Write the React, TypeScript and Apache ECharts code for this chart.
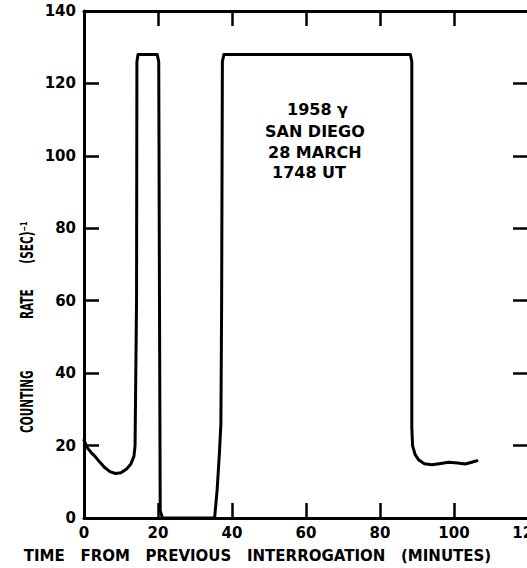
import React, { useEffect, useRef } from "react";
import * as echarts from "echarts";

// Time (minutes) and counting rate (sec^-1)
const timeMinutes: number[] = [
  0, 0.8, 2, 3, 4.2, 5.5, 7, 8.5, 10, 11.5, 12.7, 13.5, 13.8, 14.2, 14.3, 14.6,
  19.8, 20.2, 20.4, 20.6, 21.2, 35.3, 36, 36.6, 37, 37.2, 37.4, 37.8,
  88.2, 88.6, 88.6, 88.6, 88.8, 89.5, 90.5, 92, 94, 96, 98.5, 101, 103, 104.8, 106.2,
];
const countingRate: number[] = [
  21.5, 19.5, 18, 17, 15.5, 14, 12.8, 12.3, 12.5, 13.5, 15, 17, 20, 60, 126, 128,
  128, 126, 60, 2, 0, 0, 8, 18, 26, 60, 126, 128,
  128, 126, 60, 25, 20, 17.5, 16, 15, 14.7, 15, 15.4, 15.2, 14.9, 15.4, 15.8,
];

const xTicks = { min: 0, max: 120, interval: 20 };
const yTicks = { min: 0, max: 140, interval: 20 };

const xAxisTitle = "TIME   FROM   PREVIOUS   INTERROGATION   (MINUTES)";
const yAxisTitle = "COUNTING              RATE       (SEC)⁻¹";
const annotationLines: string[] = ["1958 γ", "SAN DIEGO", "28 MARCH", "1748 UT"];
const annotationLeft: number[] = [287, 265, 268, 272];
const annotationTop: number[] = [109, 131, 152, 172];

const FONT = '"DejaVu Sans", sans-serif';

export default function App() {
  const ref = useRef<HTMLDivElement>(null);
  useEffect(() => {
    if (!ref.current) return;
    const chart = echarts.init(ref.current, undefined, { renderer: "svg" });
    const axisLine = { show: true, onZero: false, lineStyle: { color: "#000", width: 3 } };
    const axisTick = { show: true, inside: true, length: 15, lineStyle: { color: "#000", width: 2.5 } };
    const labelStyle = { color: "#000", fontSize: 15, fontWeight: "bold" as const, fontFamily: FONT };
    const data = timeMinutes.map((t, i) => [t, countingRate[i]]);
    chart.setOption({
      animation: false,
      backgroundColor: "#fff",
      grid: { left: 84, right: -1, top: 11, bottom: 50, containLabel: false, outerBoundsMode: "none" },
      xAxis: [
        {
          type: "value",
          position: "bottom",
          ...xTicks,
          axisLine,
          axisTick,
          splitLine: { show: false },
          axisLabel: { ...labelStyle, margin: 7, hideOverlap: false },
          name: xAxisTitle,
          nameLocation: "middle",
          nameGap: 30,
          nameTextStyle: { ...labelStyle, fontSize: 15, padding: [0, 97, 0, 0] },
        },
        {
          type: "value",
          position: "top",
          ...xTicks,
          axisLine,
          axisTick,
          splitLine: { show: false },
          axisLabel: { show: false },
        },
      ],
      yAxis: [
        {
          type: "value",
          position: "left",
          ...yTicks,
          axisLine,
          axisTick,
          splitLine: { show: false },
          axisLabel: { ...labelStyle, margin: 8 },
        },
        {
          type: "value",
          position: "right",
          ...yTicks,
          axisLine,
          axisTick,
          splitLine: { show: false },
          axisLabel: { show: false },
        },
      ],
      series: [
        {
          type: "line",
          data,
          xAxisIndex: 0,
          yAxisIndex: 0,
          showSymbol: false,
          symbol: "none",
          clip: false,
          lineStyle: { color: "#000", width: 3, join: "round", cap: "round" },
        },
      ],
      graphic: [
        {
          type: "text",
          x: 27,
          y: 433,
          rotation: Math.PI / 2,
          scaleX: 0.62,
          style: {
            text: yAxisTitle,
            fill: "#000",
            fontSize: 17,
            fontWeight: "bold",
            fontFamily: FONT,
            align: "left",
            verticalAlign: "middle",
          },
        },
        ...annotationLines.map((t, i) => ({
          type: "text",
          x: annotationLeft[i],
          y: annotationTop[i],
          style: {
            text: t,
            fill: "#000",
            fontSize: 16,
            fontWeight: "bold",
            fontFamily: FONT,
            align: "left",
            verticalAlign: "middle",
          },
        })),
      ],
    });
    return () => chart.dispose();
  }, []);
  return (
    <div
      ref={ref}
      style={{ position: "absolute", left: 0, top: 0, width: 527, height: 568 }}
    />
  );
}
